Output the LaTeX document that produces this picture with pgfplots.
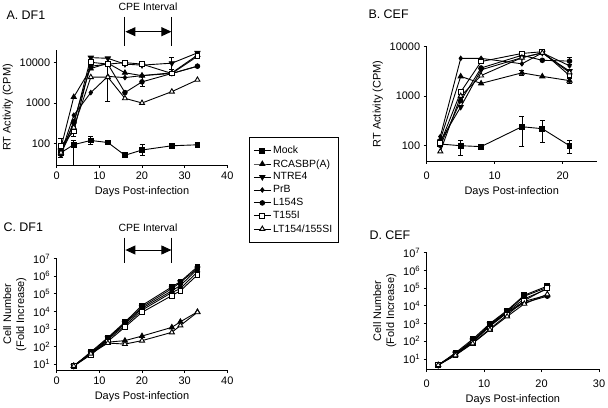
\documentclass[border=0pt]{standalone}
\usepackage{pgfplots}
\pgfplotsset{compat=1.18}
\usepackage{fontspec}
\setmainfont{Liberation Sans}
\usetikzlibrary{arrows.meta}
\pgfplotsset{
  panel/.style={
    scale only axis, anchor=south west,
    axis x line=bottom, axis y line=left,
    axis line style={-, line width=0.9bp},
    tick align=outside, major tick length=3bp,
    tick style={line width=0.8bp, black},
    yminorticks=false, xminorticks=false,
    /pgf/number format/assume math mode=true,
    ticklabel style={font=\fontsize{11}{12}\selectfont},
    label style={font=\fontsize{11}{13}\selectfont},
    every axis plot/.append style={line width=0.9bp, black},
    legend cell align=left,
  },
  sMock/.style={mark=square*, mark size=2.4bp, mark options={solid, fill=black}},
  sRC/.style={mark=triangle*, mark size=2.9bp, mark options={solid, fill=black}},
  sNT/.style={mark=triangle*, mark size=2.9bp, mark options={solid, fill=black, rotate=180}},
  sPrB/.style={mark=diamond*, mark size=2.2bp, mark options={solid, fill=black}},
  sL/.style={mark=*, mark size=2.3bp, mark options={solid, fill=black}},
  sT/.style={mark=square*, mark size=2.4bp, mark options={solid, fill=white, draw=black}},
  sLT/.style={mark=triangle*, mark size=2.9bp, mark options={solid, fill=white, draw=black}},
  eb/.style={error bars/.cd, y dir=both, y explicit,
    error bar style={line width=0.8bp, black},
    error mark options={rotate=90, mark size=2.5bp, line width=0.8bp, black}},
}
\begin{document}
\begin{tikzpicture}[x=1bp,y=1bp]
\useasboundingbox (0,0) rectangle (608,407);

% ---------------- Panel A ----------------
\begin{axis}[panel, at={(56.7bp,242bp)}, width=170.6bp, height=115bp,
  xmin=0, xmax=40, ymode=log, ymin=30, ymax=20000,
  xtick={0,10,20,30,40},
  ytick={100,1000,10000}, yticklabels={100,1000,10000},
  xlabel={Days Post-infection}, ylabel={RT Activity (CPM)},
  legend style={at={(axis description cs:1.127,0.2435)}, anchor=north west,
    draw=black, line width=0.8bp, font=\fontsize{10.5}{12}\selectfont,
    inner xsep=4bp, inner ysep=7bp, row sep=0.6bp,
    nodes={inner sep=1.8bp}},
]
\addplot[sMock, eb] coordinates {(1,60) += (0,30) -= (0,15) (4,95) += (0,25) -= (0,75) (8,120) += (0,35) -= (0,25) (12,107) += (0,15) -= (0,12) (16,52) (20,70) += (0,25) -= (0,18) (27,89) += (0,6) -= (0,6) (33,94) += (0,12) -= (0,10)};
\addlegendentry{Mock}
\addplot[sRC] coordinates {(1,80) (4,1400) (8,7000) (12,9500) (16,5500) (20,4700) (27,5500) (33,15000)};
\addlegendentry{RCASBP(A)}
\addplot[sNT, eb] coordinates {(1,70) (4,300) (8,13000) (12,12500) (16,9000) (20,8500) (27,9500) += (0,3500) -= (0,3000) (33,17000)};
\addlegendentry{NTRE4}
\addplot[sPrB, eb] coordinates {(1,60) (4,500) (8,1800) (12,4500) += (0,8500) -= (0,3400) (16,4200) (20,4700) (27,5300) (33,8000)};
\addlegendentry{PrB}
\addplot[sL, eb] coordinates {(1,55) (4,350) (8,8000) (12,9000) (16,1800) (20,3300) += (0,1200) -= (0,800) (27,5300) (33,8000)};
\addlegendentry{L154S}
\addplot[sT, eb] coordinates {(1,90) += (0,45) -= (0,30) (4,200) += (0,60) -= (0,50) (8,10000) (12,9000) (16,9800) (20,9000) (27,5300) (33,14000)};
\addlegendentry{T155I}
\addplot[sLT] coordinates {(1,60) (4,250) (8,4300) (12,4300) (16,1300) (20,1000) (27,1900) (33,3700)};
\addlegendentry{LT154/155SI}
\end{axis}

% ---------------- Panel B ----------------
\begin{axis}[panel, at={(426.7bp,246bp)}, width=170bp, height=114.3bp,
  xmin=0, xmax=25, ymode=log, ymin=48, ymax=10000,
  xtick={0,10,20},
  ytick={100,1000,10000}, yticklabels={100,1000,10000},
  xticklabel style={yshift=-4bp},
  xlabel={Days Post-infection}, ylabel={RT Activity (CPM)},
]
\addplot[sMock, eb] coordinates {(2,106) (5,98) += (0,30) -= (0,35) (8,94) += (0,12) -= (0,10) (14,238) += (0,142) -= (0,141) (17,217) += (0,98) -= (0,105) (21,98) += (0,26) -= (0,31)};
\addplot[sRC, eb] coordinates {(2,130) (5,2500) (8,1800) (14,2950) += (0,400) -= (0,350) (17,2500) (21,2050) += (0,250) -= (0,250)};
\addplot[sNT] coordinates {(2,120) (5,600) (8,3400) (14,6000) (17,7500) (21,3200)};
\addplot[sPrB] coordinates {(2,150) (5,5800) (8,5800) (14,4500) (17,7500) (21,4100)};
\addplot[sL, eb] coordinates {(2,100) (5,800) (8,3700) (14,6700) (17,5300) (21,5100) += (0,1000) -= (0,800)};
\addplot[sT] coordinates {(2,110) (5,1200) (8,5000) (14,7300) (17,7900) (21,2600)};
\addplot[sLT] coordinates {(2,75) (5,1000) (8,2600) (14,6000) (17,7500) (21,3000)};
\end{axis}

% ---------------- Panel C ----------------
\begin{axis}[panel, at={(56.7bp,37bp)}, width=170.6bp, height=111.3bp,
  xmin=0, xmax=40, ymode=log, ymin=4.7, ymax=1e7,
  xtick={0,10,20,30,40},
  ytick={10,100,1000,10000,100000,1000000,10000000},
  yticklabels={10\textsuperscript{1},10\textsuperscript{2},10\textsuperscript{3},10\textsuperscript{4},10\textsuperscript{5},10\textsuperscript{6},10\textsuperscript{7}},
  xlabel={Days Post-infection}, ylabel={Cell Number\\(Fold Increase)},
  ylabel style={align=center},
]
\addplot[sMock] coordinates {(4,8) (8,50) (12,330) (16,2500) (20,22000) (27,250000) (29,500000) (33,3500000)};
\addplot[sRC] coordinates {(4,8) (8,45) (12,180) (16,220) (20,400) (27,1250) (29,2600) (33,9500)};
\addplot[sNT] coordinates {(4,8) (8,45) (12,300) (16,2200) (20,18000) (27,200000) (29,450000) (33,2800000)};
\addplot[sPrB] coordinates {(4,8) (8,40) (12,280) (16,2000) (20,15000) (27,150000) (29,300000) (33,2500000)};
\addplot[sL] coordinates {(4,8) (8,35) (12,250) (16,1600) (20,12000) (27,120000) (29,200000) (33,1800000)};
\addplot[sT] coordinates {(4,8) (8,35) (12,200) (16,1300) (20,9000) (27,80000) (29,150000) (33,1200000)};
\addplot[sLT] coordinates {(4,8) (8,40) (12,160) (16,140) (20,220) (27,650) (29,1600) (33,9000)};
\end{axis}

% ---------------- Panel D ----------------
\begin{axis}[panel, at={(426.7bp,38bp)}, width=172.3bp, height=116.3bp,
  xmin=0, xmax=30, ymode=log, ymin=2.7, ymax=1e7,
  xtick={0,10,20,30},
  ytick={10,100,1000,10000,100000,1000000,10000000},
  yticklabels={10\textsuperscript{1},10\textsuperscript{2},10\textsuperscript{3},10\textsuperscript{4},10\textsuperscript{5},10\textsuperscript{6},10\textsuperscript{7}},
  xticklabel style={yshift=-4bp},
  xlabel={Days Post-infection}, ylabel={Cell Number\\(Fold Increase)},
  ylabel style={align=center},
]
\addplot[sMock] coordinates {(2,4.5) (5,22) (8,130) (11,1000) (14,5500) (17,40000) (21,130000)};
\addplot[sRC] coordinates {(2,4.5) (5,18) (8,95) (11,750) (14,4200) (17,18000) (21,40000)};
\addplot[sNT] coordinates {(2,4.5) (5,20) (8,110) (11,900) (14,5000) (17,35000) (21,110000)};
\addplot[sPrB] coordinates {(2,4.5) (5,19) (8,100) (11,800) (14,4500) (17,25000) (21,90000)};
\addplot[sL] coordinates {(2,4.5) (5,18) (8,90) (11,700) (14,4000) (17,15000) (21,35000)};
\addplot[sT] coordinates {(2,4.5) (5,17) (8,80) (11,500) (14,3000) (17,20000) (21,100000)};
\addplot[sLT] coordinates {(2,4.5) (5,16) (8,75) (11,450) (14,2500) (17,13000) (21,45000)};
\end{axis}

% ---------------- Titles and CPE annotations ----------------
\node[anchor=west, font=\fontsize{12.5}{14}\selectfont] at (3,392) {A. DF1};
\node[anchor=west, font=\fontsize{12.5}{14}\selectfont] at (365,393) {B. CEF};
\node[anchor=west, font=\fontsize{12.5}{14}\selectfont] at (0,180) {C. DF1};
\node[anchor=west, font=\fontsize{12.5}{14}\selectfont] at (366,172) {D. CEF};

\node[font=\fontsize{10.5}{12}\selectfont] at (148,400) {CPE Interval};
\draw[line width=0.9bp] (124.9,390) -- (124.9,361);
\draw[line width=0.9bp] (171.9,390) -- (171.9,361);
\draw[line width=0.9bp, {Triangle[length=10bp,width=9bp]}-{Triangle[length=10bp,width=9bp]}] (125.4,375.3) -- (171.4,375.3);

\node[font=\fontsize{10.5}{12}\selectfont] at (148,179.7) {CPE Interval};
\draw[line width=0.9bp] (124.9,169.3) -- (124.9,143.7);
\draw[line width=0.9bp] (171.9,169.3) -- (171.9,143.7);
\draw[line width=0.9bp, {Triangle[length=10bp,width=9bp]}-{Triangle[length=10bp,width=9bp]}] (125.4,157) -- (171.4,157);
\end{tikzpicture}
\end{document}
